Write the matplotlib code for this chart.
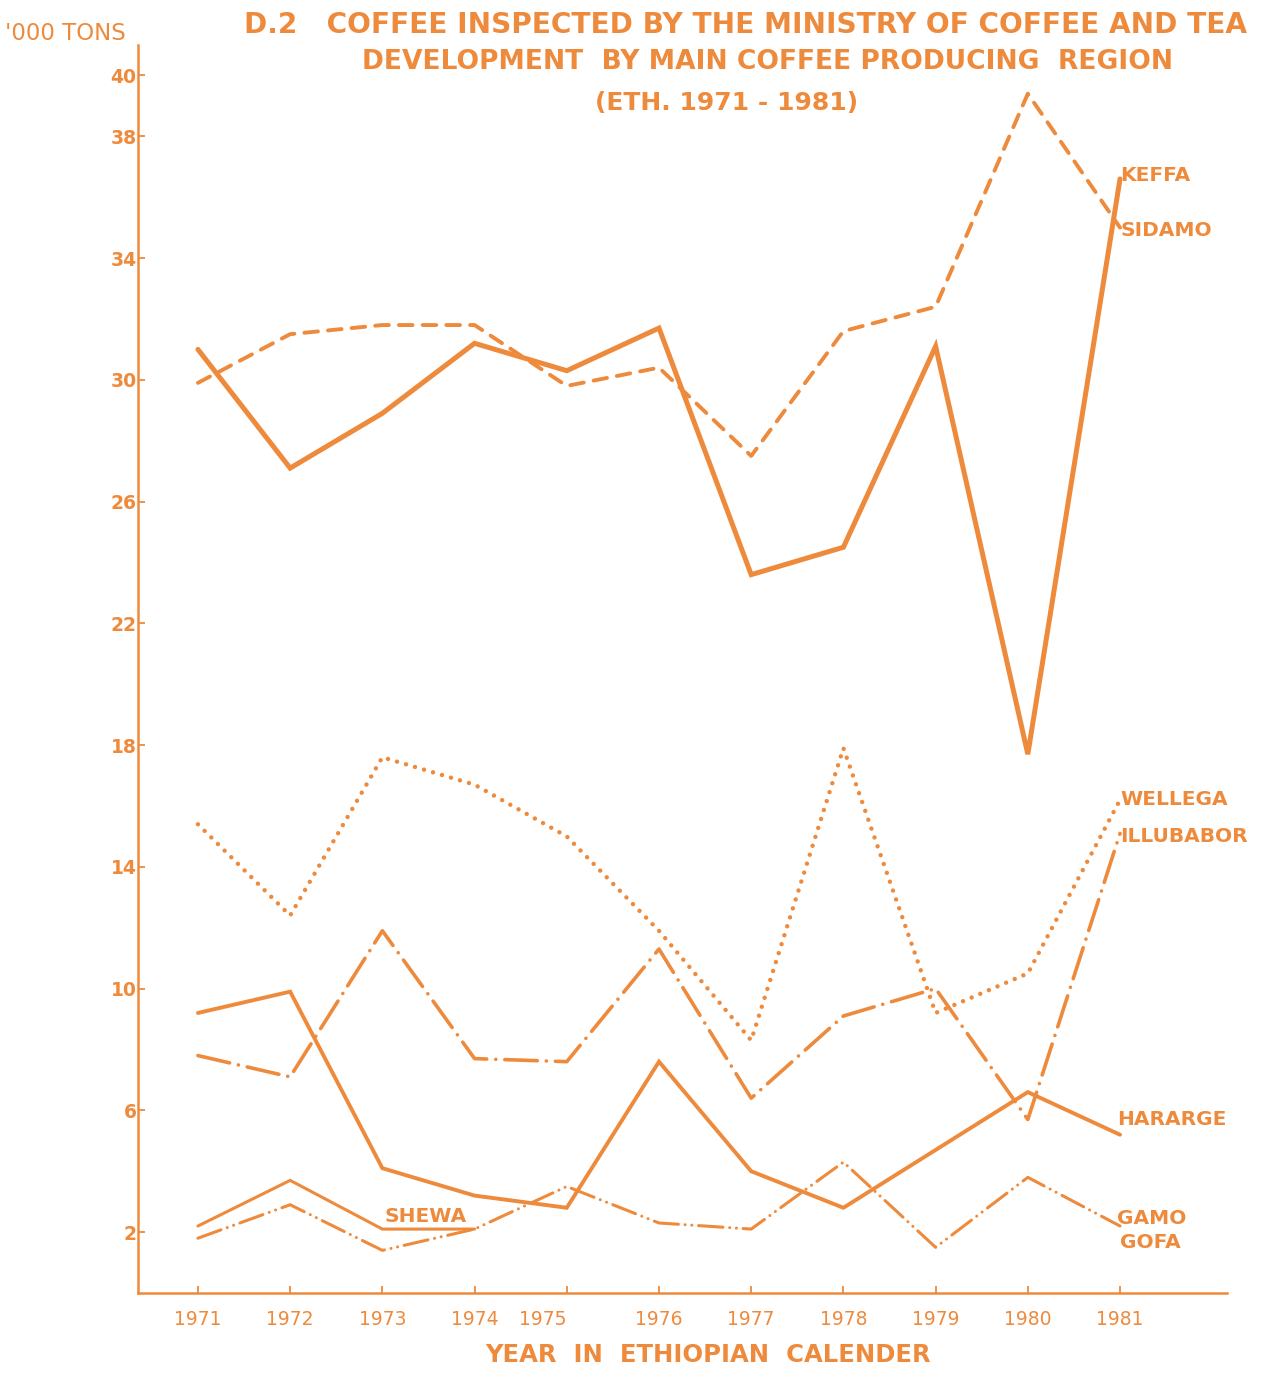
import matplotlib
matplotlib.use("Agg")
import matplotlib.pyplot as plt
import matplotlib.transforms as mtransforms

# Coffee inspected, thousand tons, Ethiopian calendar years
years = [1971, 1972, 1973, 1974, 1975, 1976, 1977, 1978, 1979, 1980, 1981]
keffa = [31.0, 27.1, 28.9, 31.2, 30.3, 31.7, 23.6, 24.5, 31.1, 17.7, 36.6]
sidamo = [29.9, 31.5, 31.8, 31.8, 29.8, 30.4, 27.5, 31.6, 32.4, 39.4, 35.0]
wellega = [15.4, 12.4, 17.6, 16.7, 15.0, 11.9, 8.3, 17.9, 9.2, 10.5, 16.2]
illubabor = [7.8, 7.1, 11.9, 7.7, 7.6, 11.3, 6.4, 9.1, 10.0, 5.7, 15.1]
hararge = [9.2, 9.9, 4.1, 3.2, 2.8, 7.6, 4.0, 2.8, 4.7, 6.6, 5.2]
shewa_years = [1971, 1972, 1973, 1974]
shewa = [2.2, 3.7, 2.1, 2.1]
gamo_gofa = [1.8, 2.9, 1.4, 2.1, 3.5, 2.3, 2.1, 4.3, 1.5, 3.8, 2.2]

y_ticks = [2, 6, 10, 14, 18, 22, 26, 30, 34, 38, 40]
x_tick_labels = [str(y) for y in years]

ORANGE = "#EE8A3C"
W, H = 1269, 1373

fig = plt.figure(figsize=(W / 100, H / 100), dpi=100)
fig.patch.set_facecolor("white")
ax = fig.add_axes([138 / W, 1 - 1293 / H, (1227 - 138) / W, (1293 - 45) / H])
ax.set_xlim(1970.35, 1982.16)
ax.set_ylim(0, 41)

cap = dict(solid_capstyle="round", dash_capstyle="round", solid_joinstyle="miter")
ax.plot(years, keffa, color=ORANGE, lw=3.6, **cap)
ax.plot(years, sidamo, color=ORANGE, lw=2.8, dashes=(3.5, 2.6), **cap)
ax.plot(years, wellega, color=ORANGE, lw=3.2, dashes=(0.01, 2.1), **cap)
ax.plot(years, illubabor, color=ORANGE, lw=2.6, dashes=(9, 2.5, 0.01, 2.5), **cap)
ax.plot(years, hararge, color=ORANGE, lw=2.8, **cap)
ax.plot(shewa_years, shewa, color=ORANGE, lw=2.2, **cap)
ax.plot(years, gamo_gofa, color=ORANGE, lw=2.2,
        dashes=(8, 2.2, 0.01, 2.2, 0.01, 2.2), **cap)

for side in ("top", "right"):
    ax.spines[side].set_visible(False)
for side in ("left", "bottom"):
    ax.spines[side].set_color(ORANGE)
    ax.spines[side].set_linewidth(1.8)

ax.set_yticks(y_ticks)
ax.set_yticklabels([str(t) for t in y_ticks], fontsize=13.5, fontweight="bold",
                   color=ORANGE)
ax.set_xticks(years)
ax.set_xticklabels(x_tick_labels, fontsize=13.5, color=ORANGE)
ax.tick_params(axis="both", direction="in", length=5, width=1.3, color=ORANGE)
ax.tick_params(axis="x", pad=12)
ax.tick_params(axis="y", pad=1)

# the 1975 label sits a little left of its tick
for lab in ax.get_xticklabels():
    if lab.get_text() == "1975":
        lab.set_transform(lab.get_transform() +
                          mtransforms.ScaledTranslation(-0.24, 0, fig.dpi_scale_trans))

ax.set_xlabel("YEAR  IN  ETHIOPIAN  CALENDER", fontsize=17.5, fontweight="bold",
              color=ORANGE)
ax.xaxis.set_label_coords((708 - 138) / (1227 - 138), -(1355 - 1293) / (1293 - 45))
ax.xaxis.label.set_va("center")

lab_kw = dict(color=ORANGE, fontsize=14.5, fontweight="bold", va="center", ha="left")
ax.text(1981.0, 36.7, "KEFFA", **lab_kw)
ax.text(1981.0, 34.9, "SIDAMO", **lab_kw)
ax.text(1981.0, 16.2, "WELLEGA", **lab_kw)
ax.text(1981.0, 15.0, "ILLUBABOR", **lab_kw)
ax.text(1980.97, 5.7, "HARARGE", **lab_kw)
ax.text(1980.97, 2.45, "GAMO", **lab_kw)
ax.text(1981.0, 1.65, "GOFA", **lab_kw)
ax.text(1973.47, 2.5, "SHEWA", color=ORANGE, fontsize=14.5, fontweight="bold",
        va="center", ha="center")

fig.text(5 / W, 1 - 33 / H, "'000 TONS", color=ORANGE, fontsize=16.5,
         ha="left", va="center")
title_kw = dict(color=ORANGE, fontweight="bold", ha="center", va="center")
fig.text(746 / W, 1 - 25 / H,
         "D.2   COFFEE INSPECTED BY THE MINISTRY OF COFFEE AND TEA",
         fontsize=20.2, **title_kw)
fig.text(768 / W, 1 - 62 / H,
         "DEVELOPMENT  BY MAIN COFFEE PRODUCING  REGION", fontsize=19.1, **title_kw)
fig.text(727 / W, 1 - 103 / H, "(ETH. 1971 - 1981)", fontsize=18, **title_kw)

fig.savefig("out.png", dpi=100, facecolor="white")
